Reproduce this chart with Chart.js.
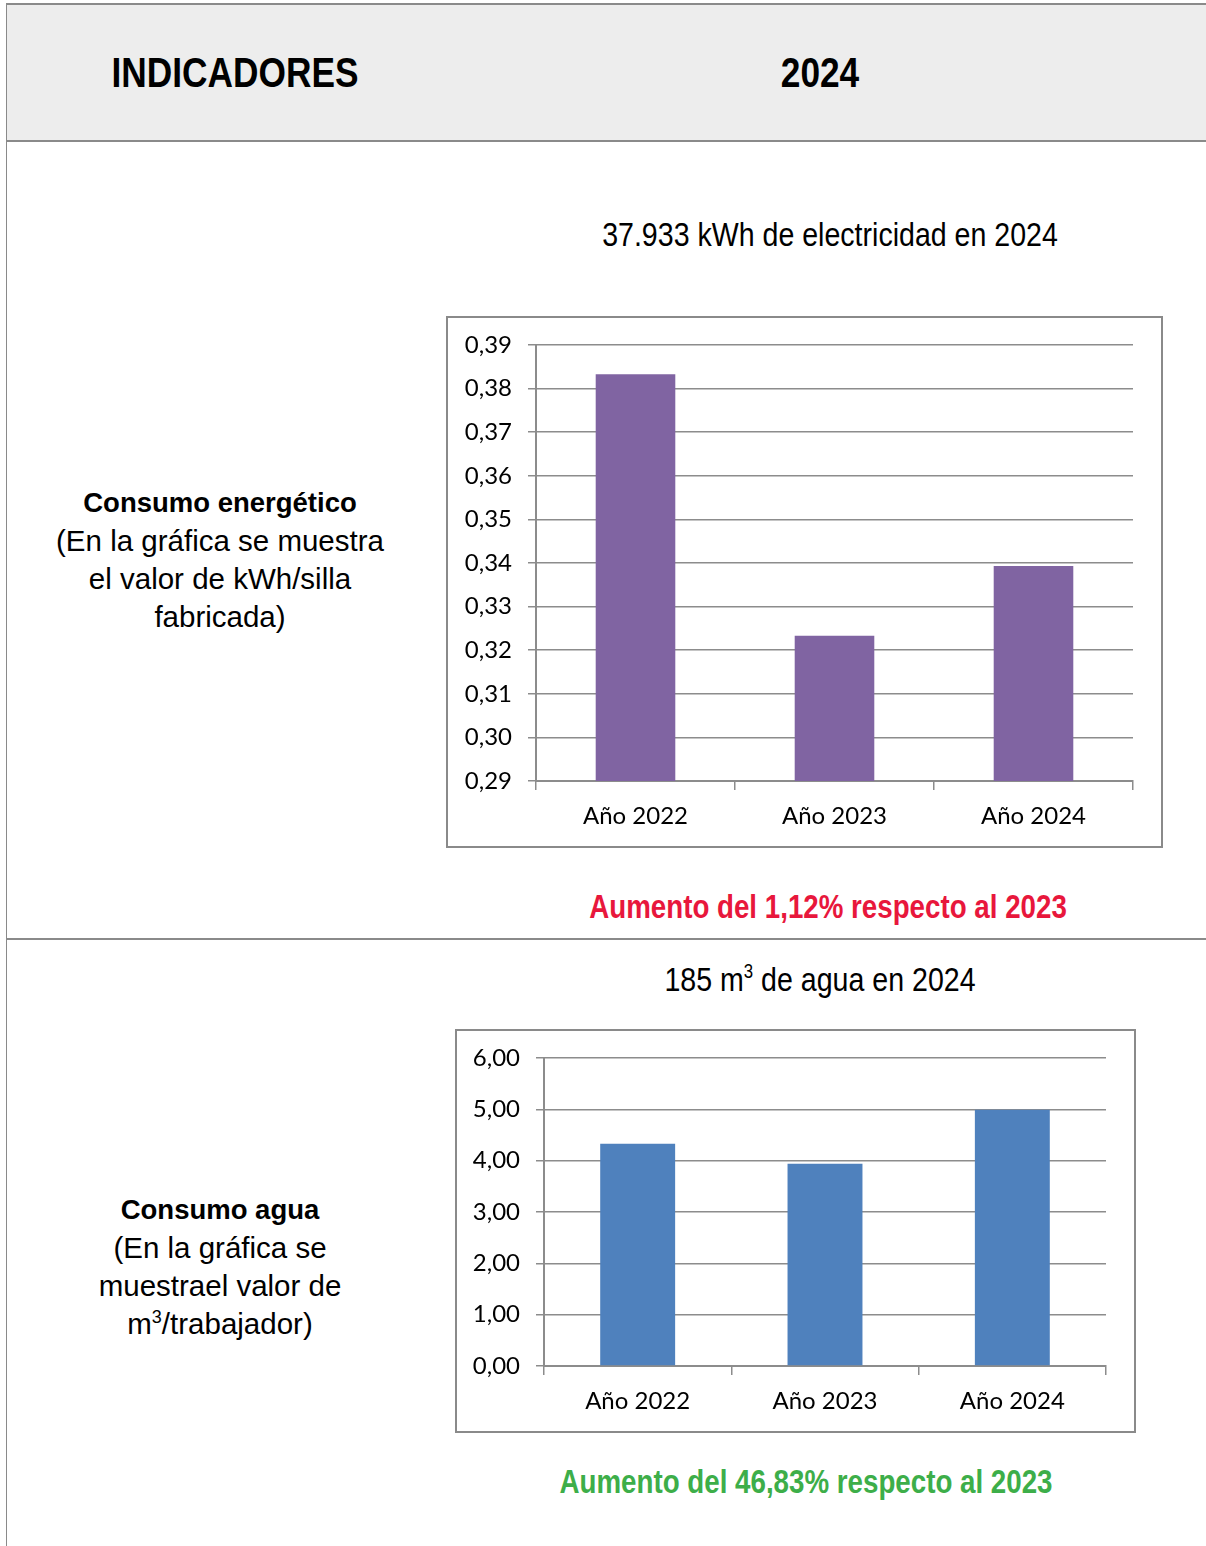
<!DOCTYPE html>
<html>
<head>
<meta charset="utf-8">
<script src="https://cdn.jsdelivr.net/npm/chart.js@4.4.1/dist/chart.umd.min.js"></script>
<style>
  html, body { margin: 0; padding: 0; background: #fff; }
  body { width: 1206px; height: 1546px; position: relative; overflow: hidden; }
  .narrow { font-family: "Liberation Sans", Arial, sans-serif; }
  .abs { position: absolute; }
  .header { left: 6px; top: 3px; width: 1200px; height: 135px; background: #ededed;
            border-top: 2px solid #8a8a8a; border-bottom: 2px solid #8a8a8a; }
  .vline { left: 6px; top: 3px; width: 1px; height: 1543px; background: #8a8a8a; }
  .hline { left: 6px; top: 938px; width: 1200px; height: 2px; background: #8a8a8a; }
  /* texto estrecho tipo Arial Narrow */
  .center { transform: translate(-50%, -50%) scaleX(0.84); white-space: nowrap; text-align: center; }
  .left-txt { font-family: "Liberation Sans", Arial, sans-serif; color: #000; text-align: center;
              line-height: 38px; transform: translateX(-50%); white-space: nowrap; }
  .left-txt sup { line-height: 0; }
  .box { border: 2px solid #8a8a8a; background: #fff; }
</style>
</head>
<body>
<div class="abs header"></div>
<div class="abs vline"></div>
<div class="abs hline"></div>

<div class="abs center narrow" style="left:235px; top:73px; font-size:42px; font-weight:bold;">INDICADORES</div>
<div class="abs center narrow" style="left:820px; top:73px; font-size:42px; font-weight:bold;">2024</div>

<div class="abs center narrow" style="left:830px; top:234px; font-size:34px;">37.933 kWh de electricidad en 2024</div>
<div class="abs center narrow" style="left:828px; top:907px; font-size:33px; font-weight:bold; color:#e8173c;">Aumento del 1,12% respecto al 2023</div>
<div class="abs center narrow" style="left:820px; top:979px; font-size:34px;">185 m<sup style="font-size:20px; line-height:0;">3</sup> de agua en 2024</div>
<div class="abs center narrow" style="left:806px; top:1482px; font-size:33px; font-weight:bold; color:#3dae49;">Aumento del 46,83% respecto al 2023</div>

<div class="abs left-txt" style="left:220px; top:484px;">
  <div style="font-weight:bold; font-size:27.5px;">Consumo energético</div>
  <div style="font-size:29.5px;">(En la gráfica se muestra<br>el valor de kWh/silla<br>fabricada)</div>
</div>
<div class="abs left-txt" style="left:220px; top:1191px;">
  <div style="font-weight:bold; font-size:27.5px;">Consumo agua</div>
  <div style="font-size:29.5px;">(En la gráfica se<br>muestrael valor de<br>m<sup style="font-size:18px;">3</sup>/trabajador)</div>
</div>

<div class="abs box" style="left:446px; top:316px; width:713px; height:528px;">
  <canvas id="energyChart"></canvas>
</div>
<div class="abs box" style="left:455px; top:1029px; width:677px; height:400px;">
  <canvas id="waterChart"></canvas>
</div>

<script>
// Datos
const years = ['Año 2022', 'Año 2023', 'Año 2024'];
const energyValues = [0.3833, 0.3233, 0.3393];
const energyTicks = [0.29, 0.30, 0.31, 0.32, 0.33, 0.34, 0.35, 0.36, 0.37, 0.38, 0.39];
const waterValues = [4.33, 3.94, 4.99];
const waterTicks = [0, 1, 2, 3, 4, 5, 6];

const gridColor = '#8c8c8c';
const tickFont = { family: 'Lato, "Open Sans", sans-serif', size: 24 };

function makeChart(canvasId, values, ticks, color, yWidth) {
    const ctx = document.getElementById(canvasId).getContext('2d');
    return new Chart(ctx, {
        type: 'bar',
        data: {
            labels: years,
            datasets: [{
                data: values,
                backgroundColor: color,
                borderWidth: 0,
                categoryPercentage: 0.8,
                barPercentage: 0.5
            }]
        },
        options: {
            responsive: true,
            maintainAspectRatio: false,
            animation: false,
            layout: { padding: { top: 27, right: 28, left: 0, bottom: 0 } },
            plugins: { legend: { display: false }, tooltip: { enabled: false } },
            scales: {
                x: {
                    grid: { drawOnChartArea: false, drawTicks: true, tickLength: 9, color: gridColor, lineWidth: 1.5 },
                    border: { color: gridColor, width: 2 },
                    ticks: { color: '#000', font: tickFont, padding: 12 },
                    afterFit: s => { s.height = 65; }
                },
                y: {
                    min: ticks[0],
                    max: ticks[ticks.length - 1],
                    afterBuildTicks: s => { s.ticks = ticks.map(v => ({ value: v })); },
                    grid: { color: gridColor, lineWidth: 1.5, tickLength: 8 },
                    border: { color: gridColor, width: 2 },
                    ticks: {
                        color: '#000', font: tickFont, padding: 16,
                        callback: v => v.toFixed(2).replace('.', ',')
                    },
                    afterFit: s => { s.width = yWidth; s.paddingTop = 0; s.paddingBottom = 0; }
                }
            }
        }
    });
}

makeChart('energyChart', energyValues, energyTicks, '#8064a2', 88);
makeChart('waterChart', waterValues, waterTicks, '#4f81bd', 87);
</script>
</body>
</html>
